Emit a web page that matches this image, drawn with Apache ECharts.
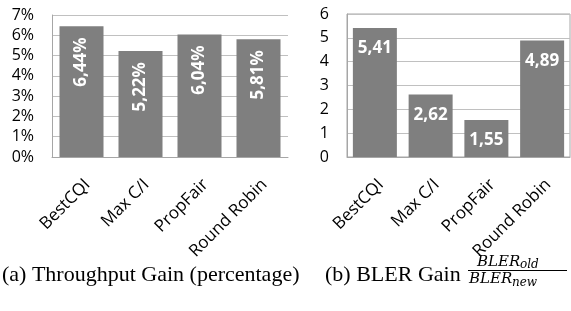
<!DOCTYPE html>
<html>
<head>
<meta charset="utf-8">
<script src="https://cdn.jsdelivr.net/npm/echarts@6/dist/echarts.min.js"></script>
<style>
html,body{margin:0;padding:0;background:#fff;}
#c{width:571px;height:311px;}
</style>
</head>
<body>
<div id="c"></div>
<script>
const categories = ['BestCQI', 'Max C/I', 'PropFair', 'Round Robin'];
const throughputGain = [6.44, 5.22, 6.04, 5.81];
const blerGain = [5.41, 2.62, 1.55, 4.89];
const leftTicks = [0, 1, 2, 3, 4, 5, 6, 7];
const rightTicks = [0, 1, 2, 3, 4, 5, 6];
const captionA = '(a) Throughput Gain (percentage)';
const captionB = '(b) BLER Gain';

const chart = echarts.init(document.getElementById('c'), null, {renderer: 'canvas'});
const axisFont = '"Open Sans", sans-serif';
const barColor = '#7f7f7f';
const gridColor = '#c0c0c0';
const axisColor = '#a6a6a6';
const fmtComma = v => v.toFixed(2).replace('.', ',');

function xAxis(gridIndex) {
  return {
    type: 'category', gridIndex, data: categories,
    axisLine: {show: true, lineStyle: {color: axisColor, width: 1}},
    axisTick: {show: false},
    axisLabel: {rotate: 45, margin: 19, align: 'right', verticalAlign: 'top',
      color: '#000', fontFamily: axisFont, fontSize: 17, interval: 0}
  };
}
function yAxis(gridIndex, max, fmt) {
  return {
    type: 'value', gridIndex, min: 0, max, interval: 1,
    axisLine: {show: true, lineStyle: {color: axisColor, width: 1}},
    axisTick: {show: false},
    splitLine: {show: true, lineStyle: {color: gridColor, width: 1}},
    axisLabel: {margin: 18, color: '#000', fontFamily: axisFont, fontSize: 16, formatter: fmt}
  };
}

chart.setOption({
  animation: false,
  backgroundColor: '#fff',
  grid: [
    {left: 52, right: 283, top: 15, bottom: 154},
    {left: 347, right: 1, top: 14, bottom: 154, show: true, borderColor: axisColor, borderWidth: 1}
  ],
  xAxis: [xAxis(0), xAxis(1)],
  yAxis: [
    yAxis(0, leftTicks[leftTicks.length - 1], '{value}%'),
    yAxis(1, rightTicks[rightTicks.length - 1], '{value}')
  ],
  series: [
    {
      type: 'bar', xAxisIndex: 0, yAxisIndex: 0, data: throughputGain, barWidth: 44,
      itemStyle: {color: barColor},
      label: {show: true, position: 'insideTop', distance: 11, rotate: 90,
        align: 'right', verticalAlign: 'middle',
        color: '#fff', fontWeight: 'bold', fontFamily: axisFont, fontSize: 17,
        formatter: p => fmtComma(p.value) + '%'}
    },
    {
      type: 'bar', xAxisIndex: 1, yAxisIndex: 1, data: blerGain, barWidth: 44,
      itemStyle: {color: barColor},
      label: {show: true, position: 'insideTop', distance: 12,
        color: '#fff', fontWeight: 'bold', fontFamily: axisFont, fontSize: 17,
        formatter: p => fmtComma(p.value)}
    }
  ],
  graphic: [
    {type: 'text', left: 2, top: 264, style: {text: captionA, font: '22px "Liberation Serif", serif', fill: '#000'}},
    {type: 'text', left: 325, top: 264, style: {text: captionB, font: '22px "Liberation Serif", serif', fill: '#000'}},
    {type: 'text', x: 477, y: 262, style: {text: 'BLER', font: 'italic 15px "DejaVu Serif", serif', fill: '#000', verticalAlign: 'middle'}},
    {type: 'text', x: 520, y: 265, style: {text: 'old', font: 'italic 12px "DejaVu Serif", serif', fill: '#000', verticalAlign: 'middle'}},
    {type: 'line', shape: {x1: 468, y1: 270.5, x2: 567, y2: 270.5}, style: {stroke: '#000', lineWidth: 1}},
    {type: 'text', x: 469, y: 279, style: {text: 'BLER', font: 'italic 15px "DejaVu Serif", serif', fill: '#000', verticalAlign: 'middle'}},
    {type: 'text', x: 512, y: 283, style: {text: 'new', font: 'italic 12px "DejaVu Serif", serif', fill: '#000', verticalAlign: 'middle'}}
  ]
});
</script>
</body>
</html>
